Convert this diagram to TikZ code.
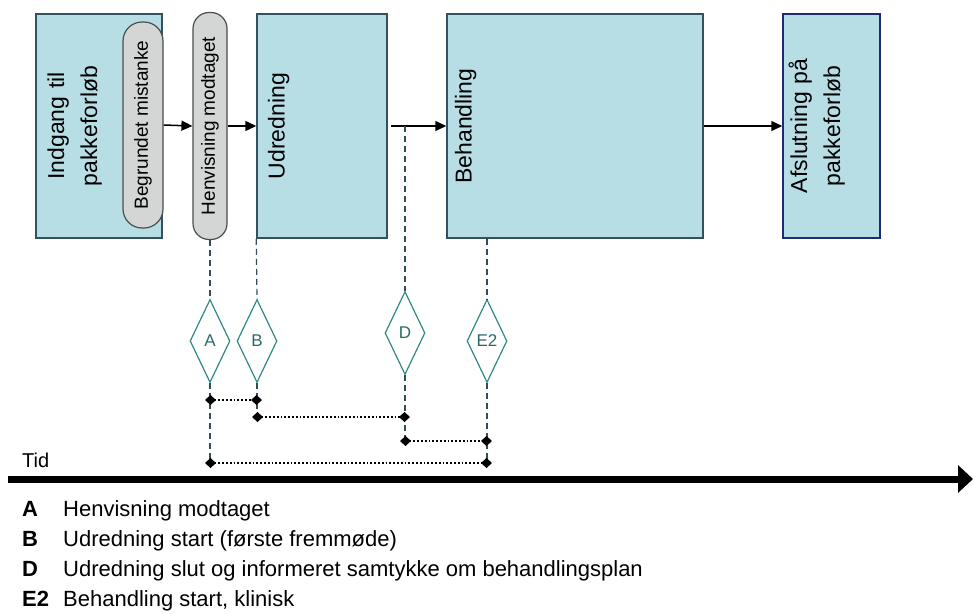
\documentclass[tikz,border=0pt]{standalone}
\usepackage{fontspec}
\setmainfont{Liberation Sans}
\usepackage{xcolor}
\usepackage{tikz}
\usetikzlibrary{
    shapes.geometric,
    positioning,
    arrows.meta,
    calc
}
\definecolor{boxfill}{HTML}{B8DEE5}
\definecolor{boxline}{HTML}{34525E}
\definecolor{endline}{HTML}{1E2B6E}
\definecolor{pillfill}{HTML}{D4D6D6}
\definecolor{pillline}{HTML}{4A4E50}
\definecolor{msline}{HTML}{2E8A82}
\definecolor{mstext}{HTML}{2C6A68}
\definecolor{guideline}{HTML}{2F4F55}
\tikzset{
  phase/.style = {
      draw=boxline,
      fill=boxfill,
      line width=1.5pt,
      rectangle,
      minimum height=224pt,
      inner ysep=0pt,
      align=left,
      font=\fontsize{23}{33}\selectfont
  },
  pill/.style = {
      draw=pillline,
      fill=pillfill,
      line width=1.2pt,
      rounded corners=16pt,
      inner sep=0pt,
      font=\fontsize{19}{22}\selectfont
  },
  milestone/.style = {
      diamond,
      draw=msline,
      line width=1.2pt,
      fill=white,
      text=mstext,
      inner sep=0pt,
      minimum width=40pt,
      minimum height=83pt,
      font=\fontsize{17}{19}\selectfont
  },
  flow/.style = {
      -{Triangle[length=11pt,width=10pt]},
      line width=1.5pt
  },
  guide/.style = {
      draw=guideline,
      line width=1.2pt,
      dash pattern=on 6pt off 4pt
  },
  span/.style = {
      dotted,
      line width=1.8pt,
      {Diamond[length=11pt,width=10pt]}-{Diamond[length=11pt,width=10pt]},
      shorten <=-5pt,
      shorten >=-5pt
  },
  timeline/.style = {
      line width=7pt,
      -{Triangle[length=15pt,width=27pt]}
  },
  legend/.style = {
      anchor=base west,
      inner sep=0pt,
      font=\fontsize{22}{26}\selectfont
  },
  key/.style = {
      legend,
      font=\fontsize{22}{26}\selectfont\bfseries
  }
}
\begin{document}
\begin{tikzpicture}[x=1pt, y=-1pt]
        \useasboundingbox (0,0) rectangle (973,613);
        % Phases
        \node[phase, text width=116pt, inner xsep=5pt] (ind) at (99,126)
            {\rotatebox{90}{\begin{tabular}{@{}c@{}}Indgang til\\pakkeforløb\end{tabular}}};
        \node[pill, minimum width=40pt, minimum height=206pt, rounded corners=19pt] (beg) at (143,125)
            {\rotatebox{90}{Begrundet mistanke}};
        \node[pill, minimum width=34pt, minimum height=227pt] (hen) at (210,126)
            {\rotatebox{90}{Henvisning modtaget}};
        \node[phase, text width=108pt, inner xsep=11pt] (udr) at (322,126)
            {\rotatebox{90}{Udredning}};
        \node[phase, text width=240pt, inner xsep=8pt] (beh) at (575,126)
            {\rotatebox{90}{Behandling}};
        \node[phase, draw=endline, text width=95pt, inner xsep=1pt] (afs) at (831.5,126)
            {\rotatebox{90}{\begin{tabular}{@{}c@{}}Afslutning på\\pakkeforløb\end{tabular}}};
        % Flow
        \draw[flow] (beg.east) -- (hen.west);
        \draw[flow] (hen.east) -- (udr.west);
        \draw[flow] ([xshift=3pt]udr.east) -- (beh.west);
        \draw[flow] (beh.east) -- (afs.west);
        % Milestones
        \node[milestone] (A) at (210,341) {A};
        \node[milestone] (B) at (257,341) {B};
        \node[milestone] (D) at (405,333) {D};
        \node[milestone] (E2) at (487,341) {E2};
        % Guides
        \draw[guide] (hen.south) -- (A.north);
        \draw[guide] (A.south) -- (A.south |- 0,463);
        \draw[guide] (udr.south west) -- (B.north);
        \draw[guide] (B.south) -- (B.south |- 0,417);
        \draw[guide] (D.north |- udr.east) -- (D.north);
        \draw[guide] (D.south) -- (D.south |- 0,441);
        \draw[guide] (E2.north |- beh.south) -- (E2.north);
        \draw[guide] (E2.south) -- (E2.south |- 0,463);
        % Spans
        \draw[span] (A.south |- 0,400) -- (B.south |- 0,400);
        \draw[span] (B.south |- 0,417) -- (D.south |- 0,417);
        \draw[span] (D.south |- 0,441) -- (E2.south |- 0,441);
        \draw[span] (A.south |- 0,463) -- (E2.south |- 0,463);
        % Time axis
        \coordinate (t0) at (8,479);
        \coordinate (t1) at (973,479);
        \draw[timeline] (t0) -- (t1);
        \node[legend, font=\fontsize{20}{24}\selectfont] (tid) at (22,467) {Tid};
        % Legend
        \foreach \k/\t [count=\i] in {A/Henvisning modtaget,
            B/Udredning start (første fremmøde),
            D/Udredning slut og informeret samtykke om behandlingsplan,
            E2/{Behandling start, klinisk}} {
            \node[key] (key\i) at (22,486+30*\i) {\k};
            \node[legend] (txt\i) at (63,486+30*\i) {\t};
        }
    \end{tikzpicture}
\end{document}
